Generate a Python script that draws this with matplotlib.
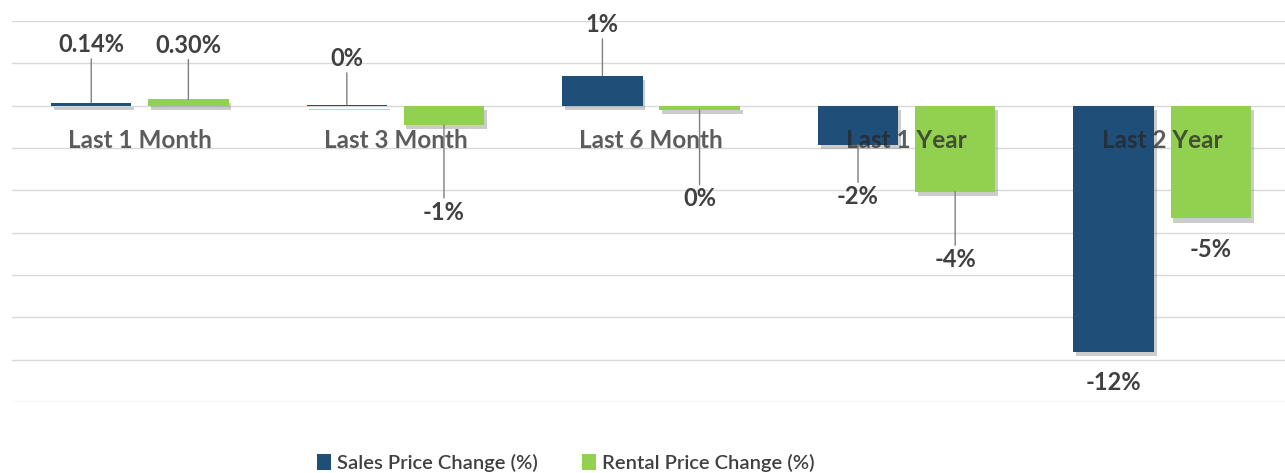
import matplotlib
matplotlib.use("Agg")
import matplotlib.pyplot as plt
import matplotlib.patheffects as pe
import numpy as np

categories = ["Last 1 Month", "Last 3 Month", "Last 6 Month", "Last 1 Year", "Last 2 Year"]
sales_change = [0.14, 0.05, 1.42, -1.84, -11.65]
rental_change = [0.30, -0.92, -0.2, -4.06, -5.33]
sales_labels = ["0.14%", "0%", "1%", "-2%", "-12%"]
rental_labels = ["0.30%", "-1%", "0%", "-4%", "-5%"]
series_names = ["Sales Price Change (%)", "Rental Price Change (%)"]

# label offsets in pixels (style), and whether a leader line is drawn
sales_offsets = [58, 46, 51, -52, -30]
rental_offsets = [54, -87, -89, -68, -31]
sales_lines = [True, True, True, True, False]
rental_lines = [True, True, True, True, False]

BLUE = "#1f4e79"
GREEN = "#92d050"
FONT = ["Lato", "DejaVu Sans"]

fig = plt.figure(figsize=(12.85, 4.73), dpi=100)
ax = fig.add_axes([12 / 1285, 1 - 402 / 473, 1278 / 1285, (402 - 21) / 473])

x = np.arange(len(categories))
w = 0.315
off = 0.19
shadow = [pe.SimplePatchShadow(offset=(2, -3), shadow_rgbFace="#808080", alpha=0.4), pe.Normal()]
b1 = ax.bar(x - off, sales_change, w, color=BLUE, zorder=3, label=series_names[0])
b2 = ax.bar(x + off, rental_change, w, color=GREEN, zorder=3, label=series_names[1])
for p in list(b1) + list(b2):
    p.set_path_effects(shadow)

ax.set_xlim(-0.5, len(categories) - 0.5)
ax.set_ylim(-14, 4)
ax.set_yticks(np.arange(-14, 5, 2))
ax.yaxis.grid(True, color="#d9d9d9", linewidth=1, zorder=0)
ax.set_axisbelow(True)
ax.set_xticks([])
ax.tick_params(left=False, labelleft=False)
for s in ax.spines.values():
    s.set_visible(False)

# category labels near zero line, semi-transparent over bars
for xi, c in zip(x, categories):
    ax.annotate(c, (xi, 0), xytext=(0, -35), textcoords="offset pixels",
                ha="center", va="center", fontsize=17.5, color="#262626", alpha=0.75,
                family=FONT, fontweight="bold", zorder=4)

def add_labels(xs, vals, labels, offsets, lines):
    for xi, v, lab, o, ln in zip(xs, vals, labels, offsets, lines):
        props = None
        if ln:
            props = dict(arrowstyle="-", color="#7f7f7f", lw=1, shrinkA=0, shrinkB=0)
        ax.annotate(lab, (xi, v), xytext=(0, o), textcoords="offset pixels",
                    ha="center", va="center", fontsize=17, color="#404040",
                    family=FONT, fontweight="bold", arrowprops=props, zorder=5)

add_labels(x - off, sales_change, sales_labels, sales_offsets, sales_lines)
add_labels(x + off, rental_change, rental_labels, rental_offsets, rental_lines)

leg = fig.legend(handles=[b1, b2], labels=series_names, loc="center",
                 bbox_to_anchor=(566 / 1285, 1 - 463 / 473), ncol=2, frameon=False,
                 prop=dict(family=FONT, size=14.5, weight="semibold"),
                 handlelength=0.7, handleheight=0.8, handletextpad=0.3, columnspacing=2.2)
for t in leg.get_texts():
    t.set_color("#404040")
for h in leg.legend_handles:
    h.set_path_effects([])

fig.savefig("out.png", dpi=100)
